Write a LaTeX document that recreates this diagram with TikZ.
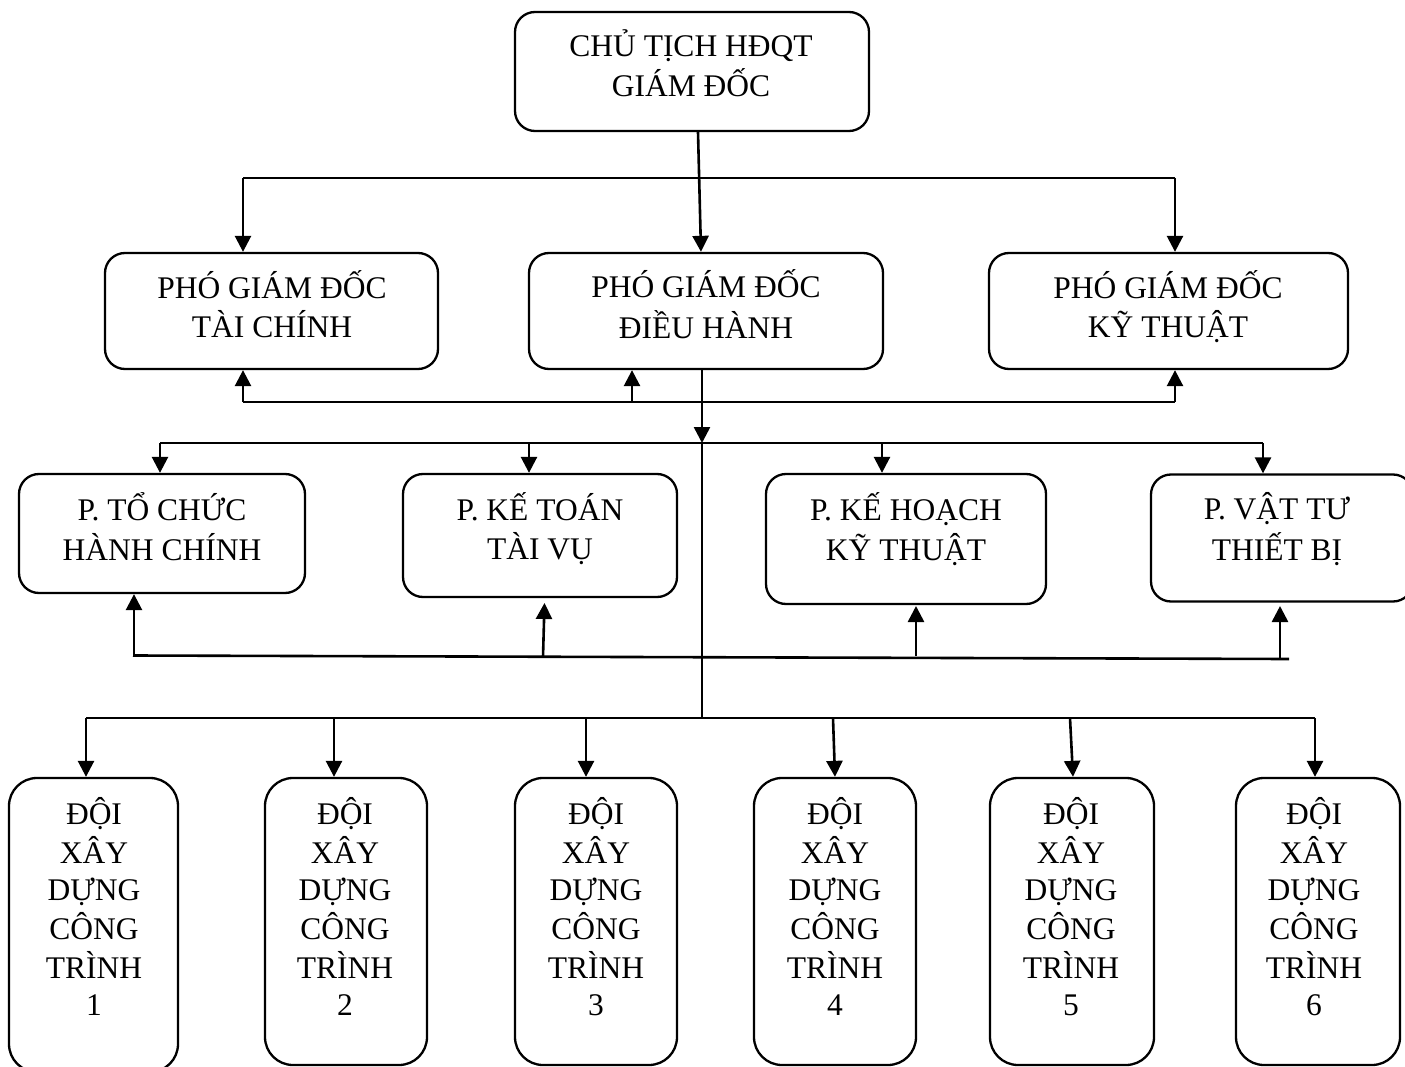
\documentclass[tikz,border=0pt]{standalone}
\usepackage{fontspec}
\setmainfont{Liberation Serif}
\usetikzlibrary{arrows.meta,calc}

\tikzset{
  box/.style={draw, line width=2.3pt, rounded corners=20pt, inner sep=0pt},
  tallbox/.style={box, rounded corners=28pt},
  lbl/.style={align=center, inner sep=0pt, anchor=center},
  link/.style={line width=2.6pt},
  arr/.style={link, -{Triangle[length=16pt,width=16pt]}},
}
\newcommand{\lines}[1]{\fontsize{31.5}{#1}\selectfont}

\begin{document}
\begin{tikzpicture}[x=1pt,y=-1pt]
\useasboundingbox (0,0) rectangle (1405,1067);

% ---- chairman / director ----
\node[box, minimum width=354pt, minimum height=119pt] (top) at (692,71.5) {};
\node[lbl, font=\lines{40}] (topt) at (691,68.5) {\strut CHỦ TỊCH HĐQT\\\strut GIÁM ĐỐC};

% ---- deputy directors ----
\node[box, minimum width=333pt, minimum height=116pt] (ph1) at (271.5,311) {};
\node[box, minimum width=354pt, minimum height=116pt] (ph2) at (706,311) {};
\node[box, minimum width=359pt, minimum height=116pt] (ph3) at (1168.5,311) {};
\node[lbl, font=\lines{39}] (ph1t) at (272,309.7) {\strut PHÓ GIÁM ĐỐC\\\strut TÀI CHÍNH};
\node[lbl, font=\lines{39}] (ph2t) at (706,309.7) {\strut PHÓ GIÁM ĐỐC\\\strut ĐIỀU HÀNH};
\node[lbl, font=\lines{39}] (ph3t) at (1168,309.7) {\strut PHÓ GIÁM ĐỐC\\\strut KỸ THUẬT};

% ---- departments ----
\node[box, minimum width=286pt, minimum height=119pt] (pa) at (162,533.5) {};
\node[box, minimum width=274pt, minimum height=123pt] (pb) at (540,535.5) {};
\node[box, minimum width=280pt, minimum height=130pt] (pc) at (906,539) {};
\node[box, minimum width=262pt, minimum height=127pt] (pd) at (1282,538) {};
\node[lbl, font=\lines{37}] (pat) at (162,532) {\strut P. TỔ CHỨC\\\strut HÀNH CHÍNH};
\node[lbl, font=\lines{37}] (pbt) at (540,532) {\strut P. KẾ TOÁN\\\strut TÀI VỤ};
\node[lbl, font=\lines{37}] (pct) at (906,532) {\strut P. KẾ HOẠCH\\\strut KỸ THUẬT};
\node[lbl, font=\lines{37}] (pdt) at (1277,532) {\strut P. VẬT TƯ\\\strut THIẾT BỊ};

% ---- construction teams ----
\node[tallbox, minimum width=169pt, minimum height=294pt] (d1) at (93.5,925) {};
\node[tallbox, minimum width=162pt, minimum height=287pt] (d2) at (346,921.5) {};
\node[tallbox, minimum width=162pt, minimum height=287pt] (d3) at (596,921.5) {};
\node[tallbox, minimum width=162pt, minimum height=287pt] (d4) at (835,921.5) {};
\node[tallbox, minimum width=164pt, minimum height=287pt] (d5) at (1072,921.5) {};
\node[tallbox, minimum width=164pt, minimum height=287pt] (d6) at (1318,921.5) {};
\foreach \n/\x in {1/94, 2/345, 3/596, 4/835, 5/1071, 6/1314} {
  \node[lbl, font=\lines{37}] (d\n t) at (\x,912) {\strut ĐỘI\\\strut XÂY\\\strut DỰNG\\\strut CÔNG\\\strut TRÌNH\\\strut \n};
}

% ---- chairman to deputies ----
\draw[arr] (698,0 |- top.south) -- (701,0 |- ph2.north);
\coordinate (busL) at (243,178);
\coordinate (busR) at (1175,178);
\draw[link] (busL) -- (busR);
\draw[arr] (busL) -- (243,0 |- ph1.north);
\draw[arr] (busR) -- (1175,0 |- ph3.north);

% ---- feedback to deputies ----
\coordinate (fbL) at (243,402);
\coordinate (fbM) at (632,402);
\coordinate (fbR) at (1175,402);
\draw[link] (fbL) -- (fbR);
\draw[arr] (fbL) -- (243,0 |- ph1.south);
\draw[arr] (fbM) -- (632,0 |- ph2.south);
\draw[arr] (fbR) -- (1175,0 |- ph3.south);

% ---- operations deputy to departments ----
\coordinate (hub) at (702,443);
\coordinate (hubLow) at (702,718);
\draw[arr] (702,0 |- ph2.south) -- (hub);
\draw[link] (hub) -- (hubLow);
\coordinate (dL) at (160,443);
\coordinate (dR) at (1263,443);
\draw[link] (dL) -- (dR);
\draw[arr] (dL) -- (160,0 |- pa.north);
\draw[arr] (529,443) -- (529,0 |- pb.north);
\draw[arr] (882,443) -- (882,0 |- pc.north);
\draw[arr] (dR) -- (1263,0 |- pd.north);

% ---- feedback to departments ----
\coordinate (uL) at (133,655.5);
\coordinate (uR) at (1289,659);
\draw[link] (uL) -- (uR);
\coordinate (ua) at (134,655.8);
\coordinate (ub) at (543,657);
\coordinate (uc) at (916,656);
\coordinate (ud) at (1280,658.5);
\draw[arr] (ua) -- (134,0 |- pa.south);
\draw[arr] (ub) -- (544.5,603);
\draw[arr] (uc) -- (916,606);
\draw[arr] (ud) -- (1280,606);

% ---- operations to construction teams ----
\coordinate (tL) at (86,718);
\coordinate (tR) at (1315,718);
\draw[link] (tL) -- (tR);
\draw[arr] (tL) -- (86,0 |- d1.north);
\draw[arr] (334,718) -- (334,0 |- d2.north);
\draw[arr] (586,718) -- (586,0 |- d3.north);
\draw[arr] (833,718) -- (835,0 |- d4.north);
\draw[arr] (1070,718) -- (1073,0 |- d5.north);
\draw[arr] (tR) -- (1315,0 |- d6.north);
\end{tikzpicture}
\end{document}
